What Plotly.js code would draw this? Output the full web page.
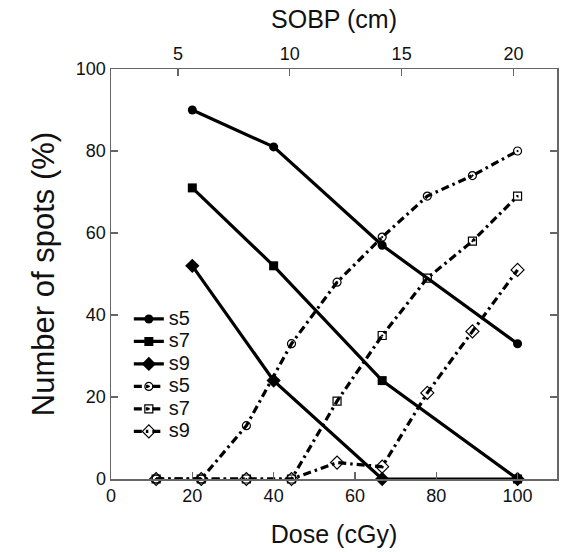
<!DOCTYPE html>
<html>
<head>
<meta charset="utf-8">
<script src="https://cdn.plot.ly/plotly-3.0.1.min.js"></script>
<style>html,body{margin:0;padding:0;background:#fff;}#chart{width:563px;height:552px;}</style>
</head>
<body>
<div id="chart"></div>
<script>
// Solid series (dose points)
const doseSolid = [20, 40, 66.7, 100];
const s5Solid = [90, 81, 57, 33];
const s7Solid = [71, 52, 24, 0];
const s9Solid = [52, 24, 0, 0];

// Dash-dot series (dose points)
const doseOpen = [11.1, 22.2, 33.3, 44.4, 55.6, 66.7, 77.8, 88.9, 100];
const s5Open = [0, 0, 13, 33, 48, 59, 69, 74, 80];
const s7Open = [0, 0, 0, 0, 19, 35, 49, 58, 69];
const s9Open = [0, 0, 0, 0, 4, 3, 21, 36, 51];

const names = ["s5", "s7", "s9"];
const xTicks = [0, 20, 40, 60, 80, 100];
const yTicks = [0, 20, 40, 60, 80, 100];
const sobpTicks = [5, 10, 15, 20];

const FONT = "Liberation Sans, Arial, sans-serif";
const solidSymbols = ["circle", "square", "diamond"];
const openSymbols = ["circle-open-dot", "square-open-dot", "diamond-open"];
const solidSizes = [9, 9, 11];
const openSizes = [8, 8, 10];
const solidData = [s5Solid, s7Solid, s9Solid];
const openData = [s5Open, s7Open, s9Open];

const big = n => '<span style="font-size:20px">' + n + '</span>';

const traces = [];
solidData.forEach((ys, i) => {
  traces.push({
    x: doseSolid, y: ys, name: big(names[i]), type: "scatter", mode: "lines+markers",
    line: {color: "#000", width: 3.2},
    marker: {symbol: solidSymbols[i], size: solidSizes[i], color: "#000"},
    cliponaxis: false
  });
});
openData.forEach((ys, i) => {
  traces.push({
    x: doseOpen, y: ys, name: big(names[i]), type: "scatter", mode: "lines+markers",
    line: {color: "#000", width: 3.2, dash: "8px,4px,2.5px,4px"},
    marker: {symbol: openSymbols[i], size: openSizes[i], color: "#000", line: {width: 1.2, color: "#000"}},
    cliponaxis: false
  });
});
// invisible trace to activate the top axis
traces.push({x: [2, 21.95], y: [null, null], xaxis: "x2", yaxis: "y", mode: "markers", showlegend: false, hoverinfo: "skip"});

const layout = {
  width: 563, height: 552,
  margin: {l: 111, r: 6, t: 69, b: 73},
  paper_bgcolor: "#fff", plot_bgcolor: "#fff",
  font: {family: FONT, color: "#111", size: 17},
  showlegend: true,
  legend: {x: 0.04, y: 0.43, xanchor: "left", yanchor: "top", bgcolor: "rgba(0,0,0,0)",
           font: {size: 15, family: FONT}, tracegroupgap: 0, itemwidth: 30},
  xaxis: {
    range: [0, 109.7], tickvals: xTicks, ticktext: xTicks.map(String),
    ticks: "inside", ticklen: 7, tickwidth: 1.2, tickcolor: "#666",
    showline: true, linecolor: "#666", linewidth: 1.5, mirror: false,
    showgrid: false, zeroline: false,
    tickfont: {size: 18, family: FONT},
    title: {text: "Dose (cGy)", font: {size: 25, family: FONT}, standoff: 20}
  },
  xaxis2: {
    overlaying: "x", side: "top", anchor: "y",
    range: [2, 21.95], tickvals: sobpTicks, ticktext: sobpTicks.map(String),
    ticks: "inside", ticklen: 7, tickwidth: 1.2, tickcolor: "#666",
    showline: true, linecolor: "#666", linewidth: 1.5,
    showgrid: false, zeroline: false,
    tickfont: {size: 18, family: FONT},
    title: {text: "SOBP (cm)", font: {size: 25, family: FONT}, standoff: 8}
  },
  yaxis: {
    range: [0, 100], tickvals: yTicks, ticktext: yTicks.map(String),
    ticks: "inside", ticklen: 7, tickwidth: 1.2, tickcolor: "#666",
    showline: true, linecolor: "#666", linewidth: 1.5, mirror: "ticks",
    showgrid: false, zeroline: false,
    tickfont: {size: 18, family: FONT},
    title: {text: "Number of spots (%)", font: {size: 31, family: FONT}, standoff: 12}
  }
};

Plotly.newPlot("chart", traces, layout, {displayModeBar: false, staticPlot: true});
</script>
</body>
</html>
